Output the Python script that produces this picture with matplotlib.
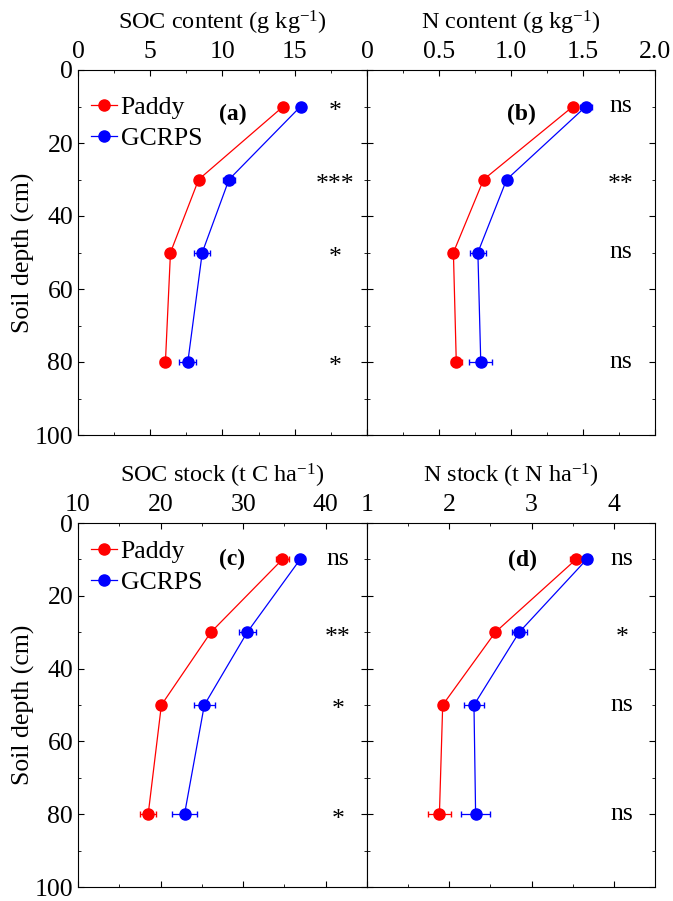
import matplotlib
matplotlib.use("Agg")
import matplotlib.pyplot as plt
from matplotlib.lines import Line2D
from matplotlib.ticker import MultipleLocator, FuncFormatter

plt.rcParams['font.family'] = ['Liberation Serif', 'DejaVu Serif']
plt.rcParams['mathtext.default'] = 'regular'
plt.rcParams['font.size'] = 18

depth = [10, 30, 50, 80]

# SOC content (g/kg)
soc_paddy = [14.2, 8.35, 6.4, 6.05]
soc_paddy_err = [0.2, 0.2, 0.2, 0.35]
soc_gcrps = [15.4, 10.45, 8.6, 7.6]
soc_gcrps_err = [0.2, 0.4, 0.55, 0.6]
soc_sig = ['*', '***', '*', '*']

# N content (g/kg)
n_paddy = [1.43, 0.81, 0.60, 0.62]
n_paddy_err = [0.02, 0.02, 0.02, 0.04]
n_gcrps = [1.52, 0.97, 0.77, 0.79]
n_gcrps_err = [0.04, 0.02, 0.055, 0.08]
n_sig = ['ns', '**', 'ns', 'ns']

# SOC stock (t C/ha)
socs_paddy = [34.75, 26.1, 20.1, 18.5]
socs_paddy_err = [0.8, 0.5, 0.3, 1.0]
socs_gcrps = [36.9, 30.5, 25.3, 22.9]
socs_gcrps_err = [0.6, 1.0, 1.25, 1.5]
socs_sig = ['ns', '**', '*', '*']

# N stock (t N/ha)
ns_paddy = [3.54, 2.56, 1.92, 1.88]
ns_paddy_err = [0.07, 0.05, 0.05, 0.14]
ns_gcrps = [3.67, 2.85, 2.30, 2.32]
ns_gcrps_err = [0.05, 0.09, 0.12, 0.18]
ns_sig = ['ns', '*', 'ns', 'ns']

fig = plt.figure(figsize=(6.73, 9.01), dpi=100)

L = 78 / 673.
W = 289 / 673.
W2 = 288 / 673.
top_b = 1 - 435 / 901.
top_h = 365 / 901.
bot_b = 1 - 887 / 901.
bot_h = 364 / 901.


def fmt_int(v, pos):
    return '%d' % round(v)


def fmt_dec(v, pos):
    if abs(v) < 1e-9:
        return '0'
    return '%.1f' % v


panels = [
    # rect, paddy, perr, gcrps, gerr, sig, xlim, major, minor, xlabel, letter, letter pos, sig x, legend y, left panel, formatter
    ([L, top_b, W, top_h], soc_paddy, soc_paddy_err, soc_gcrps, soc_gcrps_err, soc_sig,
     (0, 20), 5, 2.5, 'SOC content (g kg$^{-1}$)', '(a)', (10.7, 12.3), 17.8, 0.855, True, fmt_int),
    ([L + W, top_b, W2, top_h], n_paddy, n_paddy_err, n_gcrps, n_gcrps_err, n_sig,
     (0, 2.0), 0.5, 0.25, 'N content (g kg$^{-1}$)', '(b)', (1.07, 12.3), 1.76, None, False, fmt_dec),
    ([L, bot_b, W, bot_h], socs_paddy, socs_paddy_err, socs_gcrps, socs_gcrps_err, socs_sig,
     (10, 45), 10, 5, 'SOC stock (t C ha$^{-1}$)', '(c)', (28.65, 10.0), 41.5, 0.88, True, fmt_int),
    ([L + W, bot_b, W2, bot_h], ns_paddy, ns_paddy_err, ns_gcrps, ns_gcrps_err, ns_sig,
     (1, 4.5), 1, 0.5, 'N stock (t N ha$^{-1}$)', '(d)', (2.89, 10.2), 4.1, None, False, fmt_int),
]

for (rect, p, pe, g, ge, sig, xlim, mj, mn, xlab, letter, lpos, sx, legy, left, fmt) in panels:
    ax = fig.add_axes(rect)
    ax.errorbar(p, depth, xerr=pe, color='red', marker='o', markersize=8,
                lw=0.9, elinewidth=0.9, capsize=2.5)
    ax.errorbar(g, depth, xerr=ge, color='blue', marker='o', markersize=8,
                lw=0.9, elinewidth=0.9, capsize=2.5)
    ax.set_xlim(*xlim)
    ax.set_ylim(100, 0)
    ax.xaxis.set_major_locator(MultipleLocator(mj))
    ax.xaxis.set_minor_locator(MultipleLocator(mn))
    ax.yaxis.set_major_locator(MultipleLocator(20))
    ax.yaxis.set_minor_locator(MultipleLocator(10))
    ax.xaxis.set_major_formatter(FuncFormatter(fmt))
    ax.xaxis.tick_top()
    ax.xaxis.set_label_position('top')
    ax.tick_params(which='both', direction='in', top=True, bottom=True,
                   left=True, right=True, labelsize=18.5)
    ax.tick_params(which='major', length=4)
    ax.tick_params(which='minor', length=2.5)
    ax.tick_params(axis='x', labeltop=True, labelbottom=False, pad=5)
    ax.tick_params(axis='y', pad=3.5)
    ax.set_xlabel(xlab, fontsize=17.5, labelpad=8.5)
    if left:
        ax.set_ylabel('Soil depth (cm)', fontsize=18.5, labelpad=0)
        # last label is hidden, the neighbour panel shows its own first one
        ticks = [t for t in ax.get_xticks() if xlim[0] - 1e-9 <= t <= xlim[1] + 1e-9]
        ax.set_xticks(ticks)
        ax.set_xticklabels([fmt(t, None) if t < xlim[1] - 1e-9 else '' for t in ticks])
        ax.set_xlim(*xlim)
    else:
        ax.tick_params(axis='y', labelleft=False)
    ax.text(lpos[0], lpos[1], letter, fontsize=17, fontweight='bold', ha='center', va='center')
    for d, s in zip(depth, sig):
        off = 1.5 if s.startswith('*') else 0
        ax.text(sx, d + off, s, fontsize=18.5, ha='center', va='center')
    if legy is not None:
        handles = [Line2D([], [], color='red', marker='o', markersize=8, lw=0.9),
                   Line2D([], [], color='blue', marker='o', markersize=8, lw=0.9)]
        ax.legend(handles, ['Paddy', 'GCRPS'], loc='center left', bbox_to_anchor=(0.045, legy),
                  frameon=False, fontsize=18.5, handlelength=1.0, handletextpad=0.15,
                  borderaxespad=0, borderpad=0, labelspacing=0.3)

fig.savefig('out.png', dpi=100)
